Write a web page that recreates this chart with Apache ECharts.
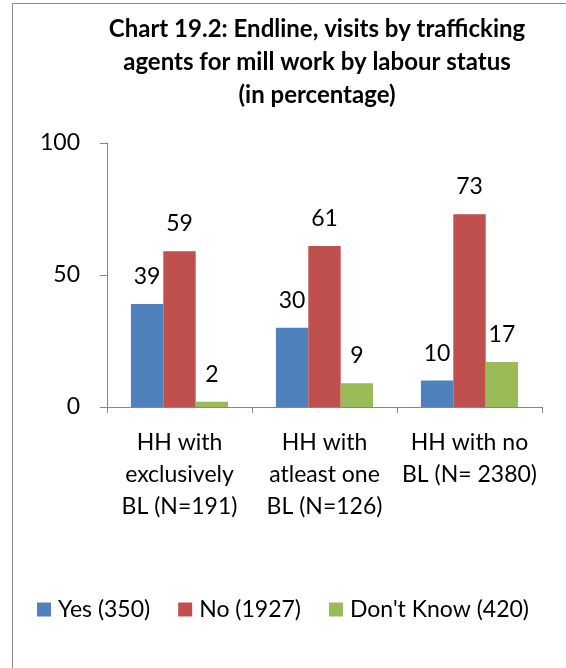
<!DOCTYPE html>
<html>
<head>
<meta charset="utf-8">
<script src="https://cdn.jsdelivr.net/npm/echarts@6/dist/echarts.min.js"></script>
<style>
  html, body { margin: 0; padding: 0; background: #fff; }
  #chart { width: 566px; height: 668px; }
</style>
</head>
<body>
<div id="chart"></div>
<script>
// Groups of households by labour status
const categories = [
  'HH with\nexclusively\nBL (N=191)',
  'HH with\natleast one\nBL (N=126)',
  'HH with no\nBL (N= 2380)'
];
const seriesNames = ['Yes (350)', 'No (1927)', "Don't Know (420)"];
const yesValues = [39, 30, 10];
const noValues = [59, 61, 73];
const dontKnowValues = [2, 9, 17];
const yTicks = [0, 50, 100];

const colors = ['#4F81BD', '#C0504D', '#9BBB59'];
const font = 'Lato, "Open Sans", sans-serif';

const chart = echarts.init(document.getElementById('chart'));

function barSeries(name, data, color) {
  return {
    name: name,
    type: 'bar',
    data: data,
    barGap: '0%',
    barCategoryGap: '33%',
    itemStyle: { color: color },
    label: {
      show: true,
      position: 'top',
      distance: 16,
      color: '#000',
      fontFamily: font,
      fontSize: 23
    }
  };
}

chart.setOption({
  animation: false,
  title: {
    text: 'Chart 19.2: Endline, visits by trafficking\nagents for mill work by labour status\n(in percentage)',
    left: 312,
    textAlign: 'center',
    top: 8,
    textStyle: {
      fontFamily: font,
      fontWeight: 'bold',
      fontSize: 24,
      lineHeight: 33,
      color: '#000'
    }
  },
  graphic: [{
    type: 'rect',
    shape: { x: 12.5, y: 3.5, width: 570, height: 680 },
    style: { fill: 'none', stroke: '#888', lineWidth: 1 },
    silent: true
  }],
  legend: {
    bottom: 42,
    left: 'center',
    itemWidth: 14,
    itemHeight: 14,
    itemGap: 28,
    icon: 'rect',
    textStyle: { fontFamily: font, fontSize: 23, color: '#000', padding: [0, 0, 0, 2] },
    data: seriesNames
  },
  grid: { left: 107, right: 24, top: 143, bottom: 261 },
  xAxis: {
    type: 'category',
    data: categories,
    axisLine: { lineStyle: { color: '#868686' } },
    axisTick: { show: true, length: 6, lineStyle: { color: '#868686' } },
    axisLabel: {
      interval: 0,
      margin: 20,
      fontFamily: font,
      fontSize: 23,
      lineHeight: 32,
      color: '#000'
    }
  },
  yAxis: {
    type: 'value',
    min: 0,
    max: 100,
    interval: 50,
    axisLine: { show: true, lineStyle: { color: '#868686' } },
    axisTick: { show: true, length: 7, lineStyle: { color: '#868686' } },
    splitLine: { show: false },
    axisLabel: {
      margin: 27,
      fontFamily: font,
      fontSize: 23,
      color: '#000',
      formatter: v => yTicks.includes(v) ? String(v) : ''
    }
  },
  series: [
    barSeries(seriesNames[0], yesValues, colors[0]),
    barSeries(seriesNames[1], noValues, colors[1]),
    barSeries(seriesNames[2], dontKnowValues, colors[2])
  ]
});
</script>
</body>
</html>
